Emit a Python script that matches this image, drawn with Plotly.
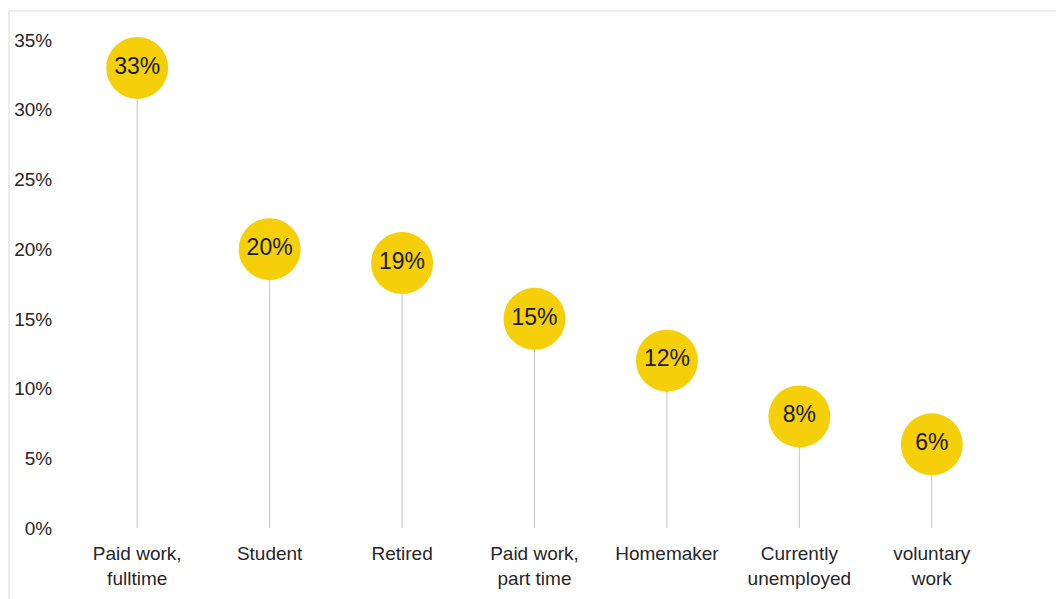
import plotly.graph_objects as go

# Employment status shares (percent)
categories = ["Paid work,<br>fulltime", "Student", "Retired", "Paid work,<br>part time",
              "Homemaker", "Currently<br>unemployed", "voluntary<br>work"]
shares = [33, 20, 19, 15, 12, 8, 6]
y_ticks = [0, 5, 10, 15, 20, 25, 30, 35]
y_tick_labels = [f"{t}%" for t in y_ticks]

W, H = 1056, 599
M_L, M_R, M_T, M_B = 71, 58, 40, 71
FONT = "Liberation Sans, Arial, sans-serif"

# Stems: one vertical segment per category from 0 up to its value
stem_x, stem_y = [], []
for c, v in zip(categories, shares):
    stem_x += [c, c, None]
    stem_y += [0, v, None]

fig = go.Figure()
fig.add_trace(go.Scatter(
    x=stem_x, y=stem_y, mode="lines",
    line=dict(color="#c4c4c4", width=1),
    hoverinfo="skip", showlegend=False, cliponaxis=False,
))
fig.add_trace(go.Scatter(
    x=categories, y=shares, mode="markers+text",
    marker=dict(size=62, color="#f5d00a", line=dict(width=0)),
    text=[f"{v}%" for v in shares], textposition="middle center",
    textfont=dict(family=FONT, size=23, color="#1a1a1a"),
    showlegend=False, cliponaxis=False,
))

# Thin light frame along the top and left edges
plot_w = W - M_L - M_R
plot_h = H - M_T - M_B
def px_x(p):
    return (p - M_L) / plot_w
def px_y(p):
    return (H - M_B - p) / plot_h
frame = dict(type="line", xref="paper", yref="paper", line=dict(color="#d9d9d9", width=1))
fig.add_shape(**frame, x0=px_x(9), x1=px_x(W + 5), y0=px_y(11), y1=px_y(11))
fig.add_shape(**frame, x0=px_x(9), x1=px_x(9), y0=px_y(11), y1=px_y(H + 5))

fig.update_layout(
    width=W, height=H,
    margin=dict(l=M_L, r=M_R, t=M_T, b=M_B, pad=0),
    paper_bgcolor="white", plot_bgcolor="white",
    font=dict(family=FONT, size=19, color="#262626"),
    xaxis=dict(
        type="category", range=[-0.5, len(categories) - 0.5], automargin=False,
        showgrid=False, showline=False, zeroline=False,
        ticks="outside", ticklen=8, tickcolor="rgba(0,0,0,0)",
        tickfont=dict(size=19, color="#262626"),
    ),
    yaxis=dict(
        range=[0, 35], tickvals=y_ticks, ticktext=y_tick_labels, automargin=False,
        showgrid=False, showline=False, zeroline=False,
        ticks="outside", ticklen=14, tickcolor="rgba(0,0,0,0)",
        tickfont=dict(size=19, color="#262626"),
    ),
)

fig.write_html("out.html")
